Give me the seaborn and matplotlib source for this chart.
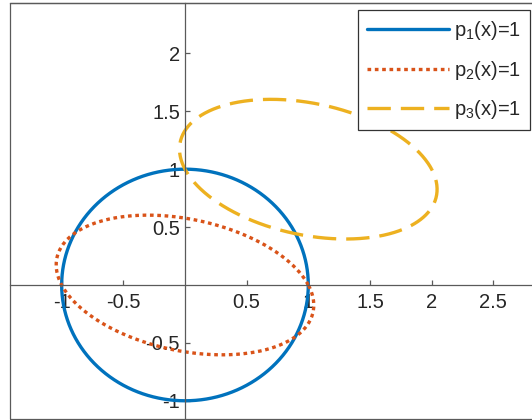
import numpy as np
import pandas as pd
import matplotlib
matplotlib.use("Agg")
import matplotlib.pyplot as plt
import seaborn as sns
from matplotlib.patches import Rectangle

# ---- data: quadratic forms  a*(x-cx)^2 + b*(x-cx)(y-cy) + c*(y-cy)^2 = 1
labels = ["p$_1$(x)=1", "p$_2$(x)=1", "p$_3$(x)=1"]
center_x = [0.0, 0.0, 1.0]
center_y = [0.0, 0.0, 1.0]
coef_xx = [1.0, 1.0, 1.0]
coef_xy = [0.0, 1.0, 1.0]
coef_yy = [1.0, 3.0, 3.0]

xtick_vals = [-1, -0.5, 0.5, 1, 1.5, 2, 2.5]
xtick_labels = ["-1", "-0.5", "0.5", "1", "1.5", "2", "2.5"]
ytick_vals = [-1, -0.5, 0.5, 1, 1.5, 2]
ytick_labels = ["-1", "-0.5", "0.5", "1", "1.5", "2"]

colors = ["#0072BD", "#D95319", "#EDB120"]
styles = ["-", (0, (1.1, 1.1)), (0, (7, 3))]

sns.set_theme(style="white")
plt.rcParams["font.family"] = ["Liberation Sans", "DejaVu Sans"]
plt.rcParams["mathtext.fontset"] = "custom"
plt.rcParams["mathtext.rm"] = "Liberation Sans"
plt.rcParams["mathtext.it"] = "Liberation Sans"
plt.rcParams["mathtext.default"] = "rm"

fig = plt.figure(figsize=(5.32, 4.2), dpi=100)
fig.patch.set_facecolor("white")
ax = fig.add_axes([10 / 532, 1.5 / 420, (540 - 10) / 532, (418.5 - 3) / 420])

theta = np.linspace(0, 2 * np.pi, 721)
for lab, cx, cy, a, b, c, col, ls in zip(labels, center_x, center_y, coef_xx,
                                         coef_xy, coef_yy, colors, styles):
    ct, st = np.cos(theta), np.sin(theta)
    r = 1.0 / np.sqrt(a * ct ** 2 + b * ct * st + c * st ** 2)
    df = pd.DataFrame({"x": cx + r * ct, "y": cy + r * st})
    sns.lineplot(data=df, x="x", y="y", sort=False, estimator=None, ax=ax,
                 color=col, linewidth=2.4, linestyle=ls, label=lab)

ax.set_xlim(-1.419, 2.879)
ax.set_ylim(-1.153, 2.435)
ax.set_xlabel("")
ax.set_ylabel("")

axis_col = "#5a5a5a"
for side in ["left", "bottom"]:
    ax.spines[side].set_position(("data", 0))
for side in ax.spines:
    ax.spines[side].set_color(axis_col)
    ax.spines[side].set_linewidth(0.9)
ax.add_patch(Rectangle((0, 0), 1, 1, transform=ax.transAxes, fill=False,
                       edgecolor=axis_col, linewidth=0.9, clip_on=False, zorder=5))

ax.set_xticks(xtick_vals)
ax.set_xticklabels(xtick_labels)
ax.set_yticks(ytick_vals)
ax.set_yticklabels(ytick_labels)
ax.tick_params(axis="both", direction="in", length=3.6, width=0.9,
               color=axis_col, labelcolor="#262626", labelsize=14.5)
ax.tick_params(axis="x", pad=5.5)
ax.tick_params(axis="y", pad=3.5)
ax.tick_params(bottom=True, left=True, top=False, right=False)

handles, labs = ax.get_legend_handles_labels()
leg = ax.legend(handles, labs, loc="upper right",
                bbox_to_anchor=(530 / 532, 410 / 420),
                bbox_transform=fig.transFigure, borderaxespad=0,
                frameon=True, fancybox=False, framealpha=1,
                edgecolor="#333333", fontsize=14.5, handlelength=4.05,
                handletextpad=0.25, labelspacing=0.82, borderpad=0.45)
leg.get_frame().set_linewidth(0.9)
for t in leg.get_texts():
    t.set_color("#262626")

fig.savefig("out.png", dpi=100)
